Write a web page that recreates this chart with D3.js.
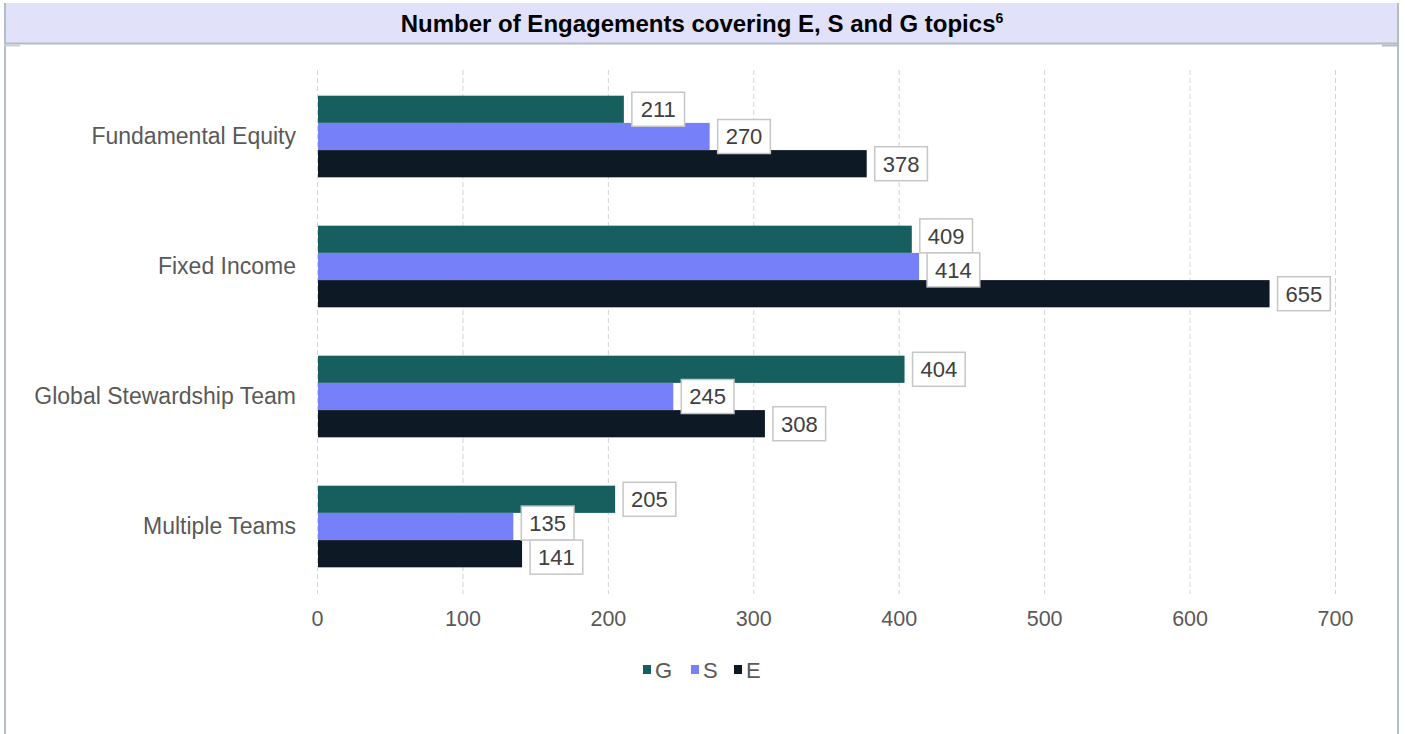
<!DOCTYPE html>
<html>
<head>
<meta charset="utf-8">
<script src="https://cdn.jsdelivr.net/npm/d3@7"></script>
<style>
  html, body { margin: 0; padding: 0; background: #ffffff; }
  svg { display: block; font-family: "Liberation Sans", Arial, sans-serif; }
</style>
</head>
<body>
<svg id="chart" width="1405" height="734"></svg>
<script>
// ---- data ----
const categories = ["Fundamental Equity", "Fixed Income", "Global Stewardship Team", "Multiple Teams"];
const seriesNames = ["G", "S", "E"];
const gValues = [211, 409, 404, 205];
const sValues = [270, 414, 245, 135];
const eValues = [378, 655, 308, 141];
const xTicks = [0, 100, 200, 300, 400, 500, 600, 700];
const seriesColors = ["#175e5e", "#7680f9", "#0e1926"];
const titleText = "Number of Engagements covering E, S and G topics";
const titleSup = "6";

const seriesValues = [gValues, sValues, eValues];

const svg = d3.select("#chart");
const W = 1405, H = 734;

// ---- frame & title band ----
svg.append("rect").attr("x", 4).attr("y", 3).attr("width", 1394).attr("height", 40)
  .attr("fill", "#e1e1fa");
svg.append("line").attr("x1", 5).attr("x2", 5).attr("y1", 3).attr("y2", H)
  .attr("stroke", "#b3bdc6").attr("stroke-width", 2);
svg.append("line").attr("x1", 1398).attr("x2", 1398).attr("y1", 3).attr("y2", H)
  .attr("stroke", "#b3bdc6").attr("stroke-width", 2);
svg.append("line").attr("x1", 4).attr("x2", 1399).attr("y1", 43.5).attr("y2", 43.5)
  .attr("stroke", "#b3bdc6").attr("stroke-width", 2);
svg.append("line").attr("x1", 4).attr("x2", 20).attr("y1", 45.5).attr("y2", 45.5)
  .attr("stroke", "#c9d0d6").attr("stroke-width", 2);
svg.append("line").attr("x1", 1382).attr("x2", 1399).attr("y1", 45.5).attr("y2", 45.5)
  .attr("stroke", "#b3bdc6").attr("stroke-width", 2);

const title = svg.append("text").attr("x", 702).attr("y", 32)
  .attr("text-anchor", "middle").attr("font-weight", "bold").attr("font-size", 24)
  .attr("fill", "#000");
title.append("tspan").text(titleText);
title.append("tspan").text(titleSup).attr("font-size", 14).attr("dy", -9);

// ---- scales ----
const x = d3.scaleLinear().domain([0, 700]).range([317, 1335]);
const y = d3.scaleBand().domain(categories).range([71.5, 591.5])
  .paddingInner(0.372).paddingOuter(0.186);
const ySub = d3.scaleBand().domain(seriesNames).range([0, y.bandwidth()]).padding(0);

// ---- grid ----
const grid = svg.append("g");
grid.selectAll("line").data(xTicks).join("line")
  .attr("x1", d => x(d) + 0.5).attr("x2", d => x(d) + 0.5)
  .attr("y1", 70).attr("y2", 594)
  .attr("stroke", "#d4d4d4").attr("stroke-width", 1).attr("stroke-dasharray", "5,3");

const fs = 22;

// ---- x axis labels ----
const xAxis = d3.axisBottom(x).tickValues(xTicks).tickSize(0).tickPadding(0);
const xg = svg.append("g").attr("transform", "translate(0,611)").call(xAxis);
xg.select(".domain").remove();
xg.selectAll("text").attr("font-size", 21.5).attr("fill", "#595959")
  .attr("font-family", "Liberation Sans, Arial, sans-serif").attr("dy", "0.71em");

// ---- y axis labels ----
const yAxis = d3.axisLeft(y).tickSize(0).tickPadding(0);
const yg = svg.append("g").attr("transform", "translate(296,0)").call(yAxis);
yg.select(".domain").remove();
yg.selectAll("text").attr("font-size", 23).attr("fill", "#595959")
  .attr("font-family", "Liberation Sans, Arial, sans-serif");

// ---- bars ----
const rows = [];
categories.forEach((c, ci) => {
  seriesNames.forEach((s, si) => {
    rows.push({ cat: c, series: s, si, value: seriesValues[si][ci] });
  });
});

const groups = svg.append("g").selectAll("g").data(categories).join("g")
  .attr("transform", d => `translate(0,${y(d)})`);

groups.selectAll("rect").data(c => rows.filter(r => r.cat === c)).join("rect")
  .attr("x", x(0) + 1)
  .attr("y", d => ySub(d.series))
  .attr("width", d => x(d.value) - x(0) - 1)
  .attr("height", ySub.bandwidth())
  .attr("fill", d => seriesColors[d.si]);

// ---- data labels (boxed) ----
const boxH = 34, padX = 8, gap = 8;
const labelG = svg.append("g");
categories.forEach(c => {
  const items = rows.filter(r => r.cat === c).map(r => {
    const tw = String(r.value).length * fs * 0.556;
    const w = tw + 2 * padX;
    const cy = y(c) + ySub(r.series) + ySub.bandwidth() / 2;
    return { ...r, x0: x(r.value) + gap, w, cy };
  });
  // simple collision separation between neighbouring labels
  for (let iter = 0; iter < 5; iter++) {
    for (let i = 0; i < items.length - 1; i++) {
      const a = items[i], b = items[i + 1];
      const xOverlap = a.x0 < b.x0 + b.w && b.x0 < a.x0 + a.w;
      const yOverlap = (a.cy + boxH / 2) - (b.cy - boxH / 2);
      if (xOverlap && yOverlap > 0) {
        a.cy -= yOverlap / 2; b.cy += yOverlap / 2;
      }
    }
  }
  items.forEach(it => {
    labelG.append("rect").attr("x", it.x0).attr("y", it.cy - boxH / 2)
      .attr("width", it.w).attr("height", boxH)
      .attr("fill", "#ffffff").attr("stroke", "#c6c6c6").attr("stroke-width", 1.5);
    labelG.append("text").attr("x", it.x0 + it.w / 2).attr("y", it.cy)
      .attr("dy", "0.36em").attr("text-anchor", "middle")
      .attr("font-size", fs).attr("fill", "#404040").text(it.value);
  });
});

// ---- legend ----
const legend = svg.append("g");
const legendX = [643, 691, 734];
seriesNames.forEach((s, i) => {
  legend.append("rect").attr("x", legendX[i]).attr("y", 665).attr("width", 8).attr("height", 9)
    .attr("fill", seriesColors[i]);
  legend.append("text").attr("x", legendX[i] + 12).attr("y", 670).attr("dy", "0.36em")
    .attr("font-size", fs).attr("fill", "#595959").text(s);
});
</script>
</body>
</html>
